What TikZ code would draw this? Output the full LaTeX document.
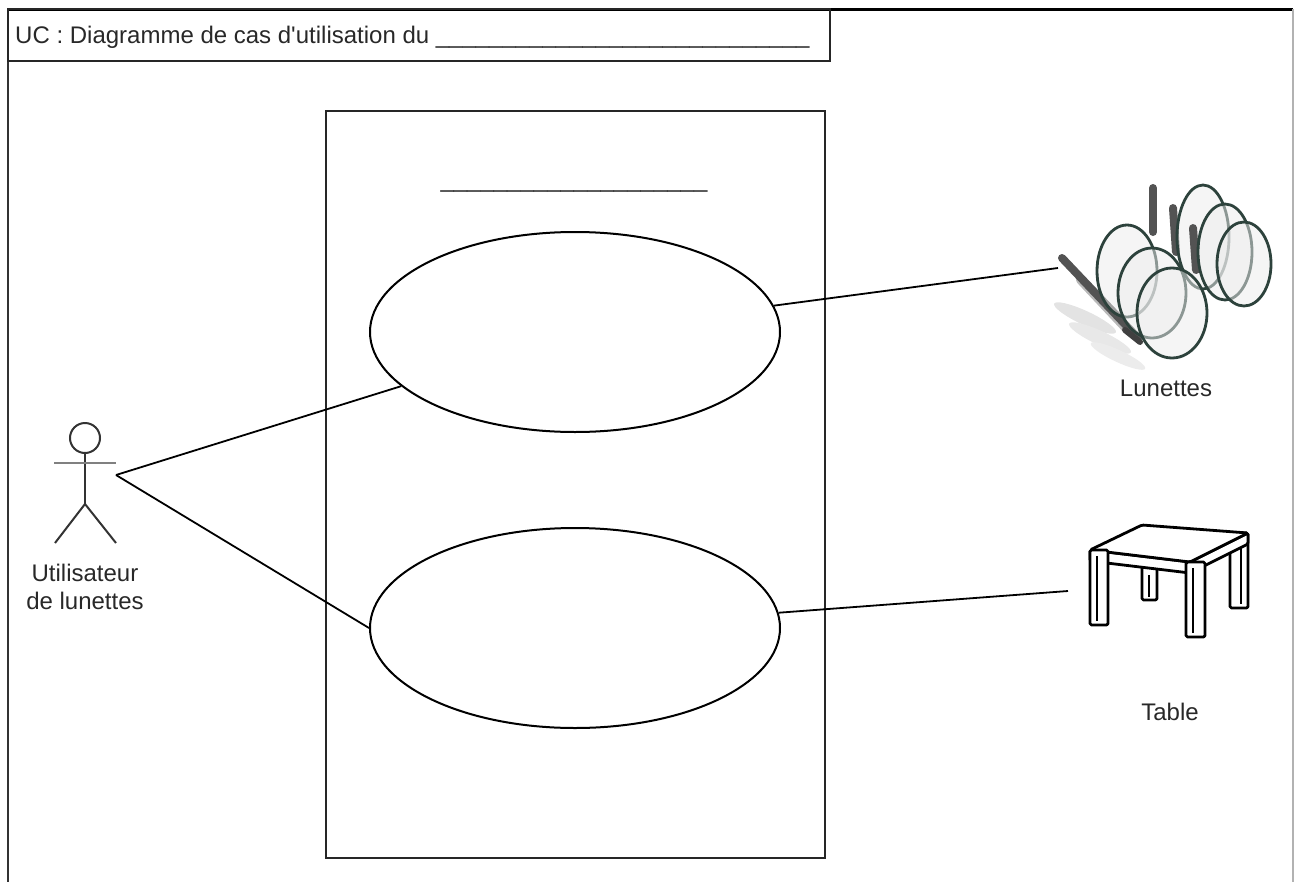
\documentclass[tikz,border=0pt]{standalone}
\usepackage{fontspec}
\setmainfont{Liberation Sans}
\usetikzlibrary{shapes.geometric, positioning}

\definecolor{rimgreen}{RGB}{45,66,60}
\definecolor{inkgray}{RGB}{40,40,40}

\begin{document}
\begin{tikzpicture}[x=1pt, y=-1pt,
    txt/.style={font=\fontsize{24}{28}\selectfont, text=inkgray, inner sep=0pt},
    boxline/.style={draw=black!85, line width=2pt},
    usecase/.style={draw=black, ellipse, line width=2pt, minimum width=410pt, minimum height=200pt, inner sep=0pt},
    assoc/.style={draw=black, line width=1.8pt},
    stick/.style={draw=black!80, line width=2pt},
    rim/.style={draw=rimgreen, line width=2.8pt, fill=gray!15, fill opacity=0.5},
    temple/.style={draw=gray!65!black, line width=8pt, line cap=round},
    leg/.style={draw=black, fill=white, line width=2.8pt, line join=round, rounded corners=1.5pt}]

\useasboundingbox (0,0) rectangle (1296,881);

% outer frame (runs off the bottom)
\draw[draw=black!80, line width=2pt] (8,900) -- (8,9);
\draw[draw=black, line width=3pt] (8,9) -- (1293,9);
\draw[draw=gray!60, line width=2pt] (1293,9) -- (1293,900);

% title tab
\draw[boxline] (8,9) rectangle (830,61);
\node (title) [txt, anchor=base west] at (15,43)
    {UC : Diagramme de cas d\textquotesingle utilisation du \_\_\_\_\_\_\_\_\_\_\_\_\_\_\_\_\_\_\_\_\_\_\_\_\_\_\_\_};

% system boundary
\node (system) [boxline, anchor=north west, minimum width=499pt, minimum height=747pt, inner sep=0pt] at (325,110) {};
\node (sysname) [txt, anchor=base] at (574,187) {\_\_\_\_\_\_\_\_\_\_\_\_\_\_\_\_\_\_\_\_};

% use cases
\node (uc1) [usecase] at (575,332) {};
\node (uc2) [usecase] at (575,628) {};

% actor: Utilisateur de lunettes
\draw[stick] (85,438) circle (15pt);
\draw[stick] (85,453) -- (85,504);
\draw[stick, draw=gray] (54,463) -- (116,463);
\draw[stick] (55,543) -- (85,504) -- (116,543);
\coordinate (user) at (116,475);
\node (userlbl) [txt, align=center] at (85,587) {Utilisateur\\de lunettes};

% actor: Lunettes (stacked pairs of glasses)
\fill[gray!22] (1085,318) ellipse [x radius=34, y radius=7, rotate=-25];
\fill[gray!18] (1100,338) ellipse [x radius=34, y radius=7, rotate=-25];
\fill[gray!15] (1118,356) ellipse [x radius=30, y radius=6, rotate=-25];
\draw[temple, draw=gray!55] (1080,280) -- (1125,328);
\draw[temple] (1062,258) -- (1138,338);
\draw[temple] (1153,188) -- (1153,232);
\draw[rim] (1127,271) ellipse [x radius=30, y radius=46];
\draw[temple] (1173,208) -- (1176,252);
\draw[rim] (1203,237) ellipse [x radius=26, y radius=52];
\draw[rim] (1152,293) ellipse [x radius=34, y radius=45];
\draw[temple] (1193,228) -- (1196,270);
\draw[rim] (1225,252) ellipse [x radius=27, y radius=48];
\draw[rim] (1172,313) ellipse [x radius=35, y radius=45];
\draw[rim] (1244,264) ellipse [x radius=27, y radius=42];
\draw[temple, line width=6pt, draw=black!75] (1125,330) -- (1140,342);
\coordinate (lunettes) at (1058,268);
\node (lunetteslbl) [txt] at (1166,388) {Lunettes};

% actor: Table
\draw[leg] (1142,565) rectangle (1157,600);
\draw[line width=2pt] (1149,575) -- (1149,597);
\draw[leg] (1230,533) rectangle (1248,608);
\draw[line width=2pt] (1241,545) -- (1241,604);
% table top and aprons
\draw[leg] (1090,550) -- (1190,562) -- (1190,573) -- (1090,561) -- cycle;
\draw[leg] (1190,562) -- (1248,533) -- (1248,544) -- (1190,573) -- cycle;
\draw[leg] (1090,550) -- (1142,525) -- (1248,533) -- (1190,562) -- cycle;
% front legs
\draw[leg] (1090,550) rectangle (1108,625);
\draw[line width=2pt] (1097,556) -- (1097,621);
\draw[leg] (1186,562) rectangle (1205,637);
\draw[line width=2pt] (1193,568) -- (1193,633);
\coordinate (table) at (1068,591);
\node (tablelbl) [txt] at (1170,712) {Table};

% associations
\draw[assoc] (user) -- (uc1);
\draw[assoc] (user) -- (uc2.west);
\draw[assoc] (uc1) -- (lunettes);
\draw[assoc] (uc2) -- (table);

\end{tikzpicture}
\end{document}
